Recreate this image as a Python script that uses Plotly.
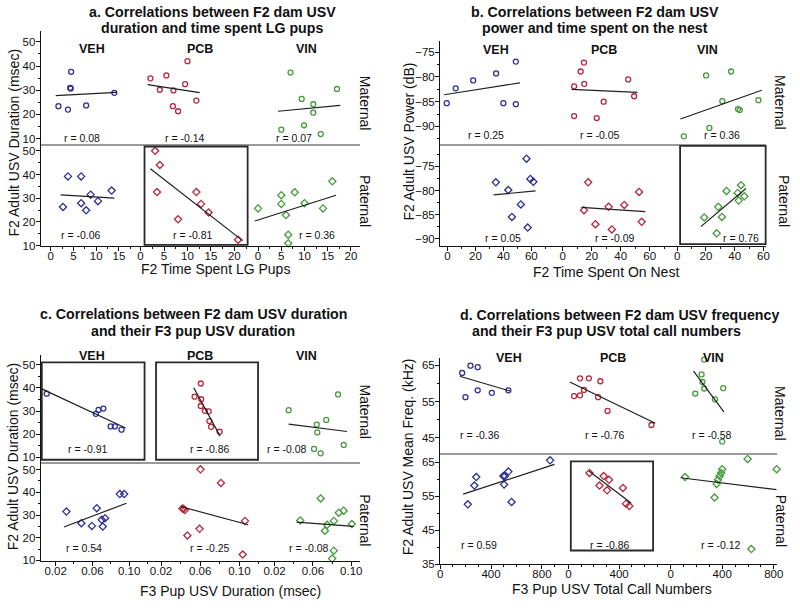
import plotly.graph_objects as go

W, H = 800, 608
FONT = "Liberation Sans, Arial, Helvetica, sans-serif"

groups = ["VEH", "PCB", "VIN"]
row_names = ["Maternal", "Paternal"]
group_colors = ["#2f2f95", "#b5283a", "#459a3a"]

# ---------------- Panel a : time spent LG pups vs USV duration ----------------
a_title = ["a. Correlations between F2 dam USV", "duration and time spent LG pups"]
a_xlabel = "F2 Time Spent LG Pups"
a_ylabel = "F2 Adult USV Duration (msec)"
a_mat_veh_x = [1.7, 3.8, 4.5, 4.3, 4.4, 7.8, 14.0]
a_mat_veh_y = [23.4, 22.0, 37.6, 31.0, 30.7, 23.7, 28.9]
a_mat_pcb_x = [2.1, 4.1, 5.5, 7.0, 9.5, 6.9, 8.0, 10.0, 11.9]
a_mat_pcb_y = [34.9, 30.2, 36.1, 29.9, 32.5, 23.4, 21.3, 42.0, 25.7]
a_mat_vin_x = [7.0, 9.4, 11.9, 11.9, 9.9, 5.0, 13.5, 17.0]
a_mat_vin_y = [37.3, 26.4, 24.2, 20.7, 15.5, 13.7, 11.9, 30.5]
a_pat_veh_x = [2.7, 3.8, 6.7, 6.7, 7.8, 8.8, 10.4, 13.4]
a_pat_veh_y = [26.3, 39.2, 39.2, 27.9, 24.9, 31.5, 28.75, 33.2]
a_pat_pcb_x = [3.1, 4.1, 3.5, 8.0, 11.9, 12.9, 14.5, 20.8]
a_pat_pcb_y = [50.0, 44.0, 32.6, 21.1, 32.6, 27.6, 24.0, 12.5]
a_pat_vin_x = [0.0, 5.0, 5.0, 6.0, 7.9, 10.0, 14.0, 16.0, 6.5, 6.5]
a_pat_vin_y = [25.7, 31.25, 27.6, 22.9, 32.5, 27.9, 25.7, 37.1, 14.6, 11.0]
a_fit_x = [[[1.1, 14.5], [1.5, 12.6], [4.3, 17.7]], [[2.2, 14.0], [2.1, 21.75], [-0.7, 16.8]]]
a_fit_y = [[[27.8, 29.1], [32.3, 29.0], [21.3, 23.7]], [[31.4, 30.0], [42.4, 12.1], [20.4, 31.25]]]
a_r = [["0.08", "-0.14", "0.07"], ["-0.06", "-0.81", "0.36"]]

# ---------------- Panel b : time on nest vs USV power ----------------
b_title = ["b. Correlations between F2 dam USV", "power and time spent on the nest"]
b_xlabel = "F2 Time Spent On Nest"
b_ylabel = "F2 Adult USV Power (dB)"
b_mat_veh_x = [-0.5, 5.9, 18.4, 34.8, 40.0, 48.9, 48.9]
b_mat_veh_y = [-85.3, -82.3, -80.7, -79.3, -85.3, -76.9, -85.5]
b_mat_pcb_x = [7.9, 12.4, 14.7, 14.9, 28.3, 23.5, 7.9, 45.2, 49.3]
b_mat_pcb_y = [-81.9, -78.9, -77.1, -81.4, -85.0, -88.3, -87.9, -80.5, -83.9]
b_mat_vin_x = [4.6, 20.1, 22.4, 31.4, 37.5, 42.3, 43.5, 56.5]
b_mat_vin_y = [-92.0, -79.7, -90.3, -84.9, -78.9, -86.5, -86.7, -84.7]
b_pat_veh_x = [34.6, 43.5, 46.1, 52.5, 56.5, 59.3, 61.4, 57.4]
b_pat_veh_y = [-78.3, -79.9, -85.5, -82.9, -73.4, -77.6, -78.2, -87.7]
b_pat_pcb_x = [14.7, 17.6, 22.6, 31.7, 33.9, 42.5, 52.7, 54.5]
b_pat_pcb_y = [-84.1, -78.3, -87.0, -83.4, -88.1, -83.0, -80.3, -86.5]
b_pat_vin_x = [18.8, 28.6, 31.1, 34.3, 42.1, 42.8, 44.4, 46.7, 27.5]
b_pat_vin_y = [-85.6, -83.4, -85.5, -80.1, -80.5, -82.1, -78.9, -81.2, -88.9]
b_fit_x = [[[-2.4, 51.8], [6.1, 51.6], [2.3, 58.8]], [[33.0, 63.0], [12.9, 57.0], [16.5, 47.8]]]
b_fit_y = [[[-83.6, -81.2], [-82.5, -83.1], [-88.5, -82.7]], [[-80.9, -80.1], [-83.5, -84.4], [-87.5, -79.6]]]
b_r = [["0.25", "-0.05", "0.36"], ["0.05", "-0.09", "0.76"]]

# ---------------- Panel c : F3 pup USV duration vs F2 USV duration ----------------
c_title = ["c. Correlations between F2 dam USV duration", "and their F3 pup USV duration"]
c_xlabel = "F3 Pup USV Duration (msec)"
c_ylabel = "F2 Adult USV Duration (msec)"
c_mat_veh_x = [0.0103, 0.0638, 0.0667, 0.0720, 0.0799, 0.0845, 0.0917]
c_mat_veh_y = [37.5, 28.8, 30.5, 31.1, 23.4, 23.4, 22.0]
c_mat_pcb_x = [0.0606, 0.0543, 0.0610, 0.0606, 0.0647, 0.0687, 0.0694, 0.0711, 0.0798]
c_mat_pcb_y = [41.9, 36.2, 35.1, 32.2, 30.1, 29.9, 25.7, 23.2, 21.1]
c_mat_vin_x = [0.0347, 0.0640, 0.0646, 0.0739, 0.0862, 0.0612, 0.0681, 0.0921]
c_mat_vin_y = [30.4, 24.2, 20.8, 26.2, 37.2, 13.7, 11.8, 15.4]
c_pat_veh_x = [0.0318, 0.0480, 0.0595, 0.0648, 0.0702, 0.0713, 0.0738, 0.0899, 0.0946]
c_pat_veh_y = [31.5, 26.4, 25.2, 33.0, 27.9, 24.9, 28.6, 39.2, 39.2]
c_pat_pcb_x = [0.0419, 0.0429, 0.0442, 0.0603, 0.0812, 0.0469, 0.0593, 0.1057, 0.1034]
c_pat_pcb_y = [32.9, 32.7, 32.2, 50.1, 44.1, 21.0, 23.9, 27.4, 12.6]
c_pat_vin_x = [0.0468, 0.0681, 0.0749, 0.0725, 0.0818, 0.0869, 0.0921, 0.1006, 0.0818, 0.0800]
c_pat_vin_y = [27.6, 37.3, 25.7, 23.1, 27.4, 31.0, 31.9, 26.0, 14.3, 10.8]
c_fit_x = [[[0.0049, 0.0962], [0.0534, 0.0803], [0.0347, 0.0955]], [[0.029, 0.0971], [0.0402, 0.109], [0.043, 0.1024]]]
c_fit_y = [[[39.6, 22.7], [40.1, 19.2], [24.4, 21.2]], [[24.7, 35.2], [33.7, 25.7], [26.9, 25.0]]]
c_r = [["-0.91", "-0.86", "-0.08"], ["0.54", "-0.25", "-0.08"]]

# ---------------- Panel d : F3 pup call numbers vs F2 mean frequency ----------------
d_title = ["d. Correlations between F2 dam USV frequency", "and their F3 pup USV total call numbers"]
d_xlabel = "F3 Pup USV Total Call Numbers"
d_ylabel = "F2 Adult USV Mean Freq. (kHz)"
d_mat_veh_x = [173, 199, 238, 295, 295, 406, 536]
d_mat_veh_y = [62.9, 56.2, 64.9, 58.1, 64.5, 57.4, 58.1]
d_mat_pcb_x = [44, 91, 91, 122, 161, 234, 252, 309, 656]
d_mat_pcb_y = [56.5, 56.7, 61.4, 58.2, 61.4, 56.2, 60.6, 52.4, 48.5]
d_mat_vin_x = [260, 240, 247, 260, 191, 408, 344, 400]
d_mat_vin_y = [66.6, 62.5, 60.4, 58.6, 57.2, 58.7, 55.6, 43.9]
d_pat_veh_x = [217, 269, 284, 497, 509, 536, 502, 561, 864]
d_pat_veh_y = [52.6, 58.1, 60.6, 60.9, 60.9, 62.2, 58.4, 53.3, 65.5]
d_pat_pcb_x = [166, 245, 278, 305, 320, 430, 455, 481]
d_pat_pcb_y = [61.8, 58.1, 60.9, 56.7, 59.8, 57.4, 52.8, 52.1]
d_pat_vin_x = [112, 341, 357, 367, 380, 392, 400, 597, 822, 626]
d_pat_vin_y = [60.6, 54.6, 58.6, 59.8, 60.9, 61.8, 62.9, 65.9, 62.9, 39.5]
d_fit_x = [[[155, 548], [10, 687], [178, 413]], [[181, 898], [161, 495], [77, 822]]]
d_fit_y = [[[62.0, 57.9], [60.4, 49.0], [63.4, 52.1]], [[55.6, 64.3], [62.4, 53.0], [60.4, 56.9]]]
d_r = [["-0.36", "-0.76", "-0.58"], ["0.59", "-0.86", "-0.12"]]

# tick values
a_xticks = [[0, 5, 10, 15], [0, 5, 10, 15, 20], [0, 5, 10, 15, 20]]
b_xticks = [[0, 20, 40, 60]] * 3
c_xticks = [[0.02, 0.06, 0.10]] * 3
d_xticks = [[0, 400, 800]] * 3
a_yticks = [10, 20, 30, 40, 50]
b_yticks = [-90, -85, -80, -75]
c_yticks = [10, 20, 30, 40, 50]
d_yticks = [35, 45, 55, 65]

# significant correlations (boxed): (row, col)
a_boxed = [(1, 1)]
b_boxed = [(1, 2)]
c_boxed = [(0, 0), (0, 1)]
d_boxed = [(1, 1)]

panel_data = [
    dict(title=a_title, xlabel=a_xlabel, ylabel=a_ylabel, r=a_r, fx=a_fit_x, fy=a_fit_y,
         xt=a_xticks, yt=a_yticks, boxed=a_boxed, xfmt=None,
         pts=[[(a_mat_veh_x, a_mat_veh_y), (a_mat_pcb_x, a_mat_pcb_y), (a_mat_vin_x, a_mat_vin_y)],
              [(a_pat_veh_x, a_pat_veh_y), (a_pat_pcb_x, a_pat_pcb_y), (a_pat_vin_x, a_pat_vin_y)]]),
    dict(title=b_title, xlabel=b_xlabel, ylabel=b_ylabel, r=b_r, fx=b_fit_x, fy=b_fit_y,
         xt=b_xticks, yt=b_yticks, boxed=b_boxed, xfmt=None,
         pts=[[(b_mat_veh_x, b_mat_veh_y), (b_mat_pcb_x, b_mat_pcb_y), (b_mat_vin_x, b_mat_vin_y)],
              [(b_pat_veh_x, b_pat_veh_y), (b_pat_pcb_x, b_pat_pcb_y), (b_pat_vin_x, b_pat_vin_y)]]),
    dict(title=c_title, xlabel=c_xlabel, ylabel=c_ylabel, r=c_r, fx=c_fit_x, fy=c_fit_y,
         xt=c_xticks, yt=c_yticks, boxed=c_boxed, xfmt="%.2f",
         pts=[[(c_mat_veh_x, c_mat_veh_y), (c_mat_pcb_x, c_mat_pcb_y), (c_mat_vin_x, c_mat_vin_y)],
              [(c_pat_veh_x, c_pat_veh_y), (c_pat_pcb_x, c_pat_pcb_y), (c_pat_vin_x, c_pat_vin_y)]]),
    dict(title=d_title, xlabel=d_xlabel, ylabel=d_ylabel, r=d_r, fx=d_fit_x, fy=d_fit_y,
         xt=d_xticks, yt=d_yticks, boxed=d_boxed, xfmt=None,
         pts=[[(d_mat_veh_x, d_mat_veh_y), (d_mat_pcb_x, d_mat_pcb_y), (d_mat_vin_x, d_mat_vin_y)],
              [(d_pat_veh_x, d_pat_veh_y), (d_pat_pcb_x, d_pat_pcb_y), (d_pat_vin_x, d_pat_vin_y)]]),
]

# ---------------- layout geometry (pixels) ----------------
panel_geom = [
    dict(cols=[38.3, 133, 249, 361.7], rows=[31.7, 145.7, 248.3],
         xr=[[-2.17, 18.4], [-1.33, 23.1], [-1.98, 22.0]], yr=[[7.67, 54.3], [9.9, 52.75]],
         xminor=2.5, yminor=5,
         title_xy=[(212, 12.3), (212, 28.3)], head_y=49, head_x=[90, 199, 307],
         r_pos=[[(80, 139), (184, 139), (295, 139)], [(79, 237), (192, 237), (318, 237)]],
         xlab=(215, 271.5), ylab=(11, 144), side_x=[366.7, 366.7], side_y=[104, 203],
         boxes=[[0.089, 0.989, 0.01, 0.978]]),
    dict(cols=[442.7, 556, 676, 772.7], rows=[41.7, 145.7, 248.3],
         xr=[[-5.2, 74.8], [-7.3, 74.4], [-4.6, 61.8]], yr=[[-93.6, -72.8], [-91.5, -70.4]],
         xminor=10, yminor=2.5,
         title_xy=[(599, 12.3), (599, 28.3)], head_y=50, head_x=[499.3, 608.3, 713.3],
         r_pos=[[(489.3, 136.7), (605, 136.7), (728.3, 136.7)], [(506, 240), (620, 240), (747.3, 240)]],
         xlab=(610.7, 274.5), ylab=(411, 143), side_x=[786.7, 791], side_y=[103, 203],
         boxes=[[0.1, 0.996, 0.016, 0.984]]),
    dict(cols=[38.3, 149, 262, 362], rows=[358.3, 466.7, 566.7],
         xr=[[0.0039, 0.1229], [0.0089, 0.1228], [0.0066, 0.1096]], yr=[[8.0, 54.3], [9.7, 53.3]],
         xminor=0.02, yminor=5,
         title_xy=[(192.5, 316.7), (192, 334.3)], head_y=360, head_x=[90, 199, 307.3],
         r_pos=[[(85.7, 453.3), (209.3, 453.3), (287.3, 453.3)], [(81.7, 553.3), (209.3, 553.3), (310, 553.3)]],
         xlab=(230, 596.7), ylab=(11, 461), side_x=[366.7, 366.7], side_y=[415.7, 525.5],
         boxes=[[0.009, 0.949, 0.022, 0.929], [0.053, 0.967, 0.022, 0.929]]),
    dict(cols=[442.7, 566, 666, 783.5], rows=[361.7, 457.7, 570],
         xr=[[0, 957], [-52, 729], [-77, 822.5]], yr=[[40.7, 67.0], [35, 67.6]],
         xminor=100, yminor=5,
         title_xy=[(624, 318.3), (611.5, 334.3)], head_y=361.7, head_x=[512.7, 617.3, 719.3],
         r_pos=[[(482.7, 439.3), (610, 439.3), (718.3, 439.3)], [(481.7, 550), (614.3, 550), (726.7, 550)]],
         xlab=(616.7, 595), ylab=(411, 461), side_x=[786.7, 787.3], side_y=[417, 526.5],
         boxes=[[0.09, 0.923, 0.125, 0.926]]),
]


def px_x(v):
    return v / W


def px_y(v):
    return 1 - v / H


fig = go.Figure()
layout = {}
annotations = []
shapes = []

for pi, (P, G) in enumerate(zip(panel_data, panel_geom)):
    for r in range(2):
        for c in range(3):
            idx = pi * 6 + r * 3 + c + 1
            xn = "x" if idx == 1 else f"x{idx}"
            yn = "y" if idx == 1 else f"y{idx}"
            xs, ys = P["pts"][r][c]
            fig.add_trace(go.Scatter(
                x=xs, y=ys, mode="markers", xaxis=xn, yaxis=yn,
                marker=dict(symbol="circle-open" if r == 0 else "diamond-open",
                            size=5 if r == 0 else 5.5, color=group_colors[c],
                            line=dict(width=1.3, color=group_colors[c])),
                cliponaxis=False, showlegend=False, hoverinfo="skip"))
            fig.add_trace(go.Scatter(
                x=P["fx"][r][c], y=P["fy"][r][c], mode="lines", xaxis=xn, yaxis=yn,
                line=dict(color="#1e1e1e", width=1.2), cliponaxis=False,
                showlegend=False, hoverinfo="skip"))

            xdom = [px_x(G["cols"][c]), px_x(G["cols"][c + 1])]
            ydom = [px_y(G["rows"][r + 1]), px_y(G["rows"][r])]
            xa = dict(domain=xdom, range=G["xr"][c], anchor=yn, showgrid=False,
                      zeroline=False, fixedrange=True)
            if r == 1:
                xa.update(showline=True, linecolor="#111", linewidth=1.2, ticks="outside",
                          ticklen=4, tickwidth=1, tickcolor="#111",
                          tickmode="array", tickvals=P["xt"][c],
                          ticktext=[(P["xfmt"] % v) if P["xfmt"] else str(v) for v in P["xt"][c]],
                          tickfont=dict(family=FONT, size=11.5, color="#111"),
                          ticklabelstandoff=-5,
                          minor=dict(ticks="outside", ticklen=2, tickcolor="#111",
                                     dtick=G["xminor"], tick0=0, showgrid=False))
            else:
                xa.update(showline=True, linecolor="#9a9a9a", linewidth=1.5, ticks="",
                          showticklabels=False)
            ya = dict(domain=ydom, range=G["yr"][r], anchor=xn, showgrid=False,
                      zeroline=False, fixedrange=True)
            if c == 0:
                ya.update(showline=True, linecolor="#111", linewidth=1.2, ticks="outside",
                          ticklen=4, tickwidth=1, tickcolor="#111",
                          tickmode="array", tickvals=P["yt"],
                          tickfont=dict(family=FONT, size=11.5, color="#111"),
                          ticklabelstandoff=-2,
                          minor=dict(ticks="outside", ticklen=2, tickcolor="#111",
                                     dtick=G["yminor"], tick0=0, showgrid=False))
            else:
                ya.update(showline=False, ticks="", showticklabels=False)
            layout["xaxis" if idx == 1 else f"xaxis{idx}"] = xa
            layout["yaxis" if idx == 1 else f"yaxis{idx}"] = ya

            # r label
            rx, ry = G["r_pos"][r][c]
            annotations.append(dict(text="r = " + P["r"][r][c], x=px_x(rx), y=px_y(ry),
                                    xref="paper", yref="paper", showarrow=False,
                                    xanchor="center", yanchor="middle",
                                    font=dict(family=FONT, size=10.5, color="#111")))

    # boxes around significant correlations
    for bi, (br, bc) in enumerate(P["boxed"]):
        idx = pi * 6 + br * 3 + bc + 1
        xn = "x" if idx == 1 else f"x{idx}"
        yn = "y" if idx == 1 else f"y{idx}"
        x0, x1, y0, y1 = G["boxes"][bi]
        shapes.append(dict(type="rect", xref=f"{xn} domain", yref=f"{yn} domain",
                           x0=x0, x1=x1, y0=y0, y1=y1,
                           line=dict(color="#2a2a2a", width=1.8), fillcolor="rgba(0,0,0,0)"))

    # titles
    for li, (tx, ty) in enumerate(G["title_xy"]):
        annotations.append(dict(text="<b>" + P["title"][li] + "</b>", x=px_x(tx), y=px_y(ty),
                                xref="paper", yref="paper", showarrow=False,
                                xanchor="center", yanchor="middle",
                                font=dict(family=FONT, size=14.2, color="#111")))
    # group headers
    for gi, g in enumerate(groups):
        annotations.append(dict(text="<b>" + g + "</b>", x=px_x(G["head_x"][gi]), y=px_y(G["head_y"]),
                                xref="paper", yref="paper", showarrow=False,
                                xanchor="center", yanchor="middle",
                                font=dict(family=FONT, size=12.5, color="#111")))
    # axis titles
    annotations.append(dict(text=P["xlabel"], x=px_x(G["xlab"][0]), y=px_y(G["xlab"][1]),
                            xref="paper", yref="paper", showarrow=False,
                            xanchor="center", yanchor="middle",
                            font=dict(family=FONT, size=14, color="#111")))
    annotations.append(dict(text=P["ylabel"], x=px_x(G["ylab"][0]), y=px_y(G["ylab"][1]),
                            xref="paper", yref="paper", showarrow=False, textangle=-90,
                            xanchor="center", yanchor="middle",
                            font=dict(family=FONT, size=14, color="#111")))
    # side labels
    for ri, name in enumerate(row_names):
        annotations.append(dict(text=name, x=px_x(G["side_x"][ri]), y=px_y(G["side_y"][ri]),
                                xref="paper", yref="paper", showarrow=False, textangle=90,
                                xanchor="center", yanchor="middle",
                                font=dict(family=FONT, size=14, color="#111")))

fig.update_layout(**layout)
fig.update_layout(width=W, height=H, margin=dict(l=0, r=0, t=0, b=0),
                  plot_bgcolor="white", paper_bgcolor="white", showlegend=False,
                  annotations=annotations, shapes=shapes,
                  font=dict(family=FONT, color="#111"))

fig.write_html("out.html", config={"displayModeBar": False},
               post_script="document.body.style.margin='0';")
